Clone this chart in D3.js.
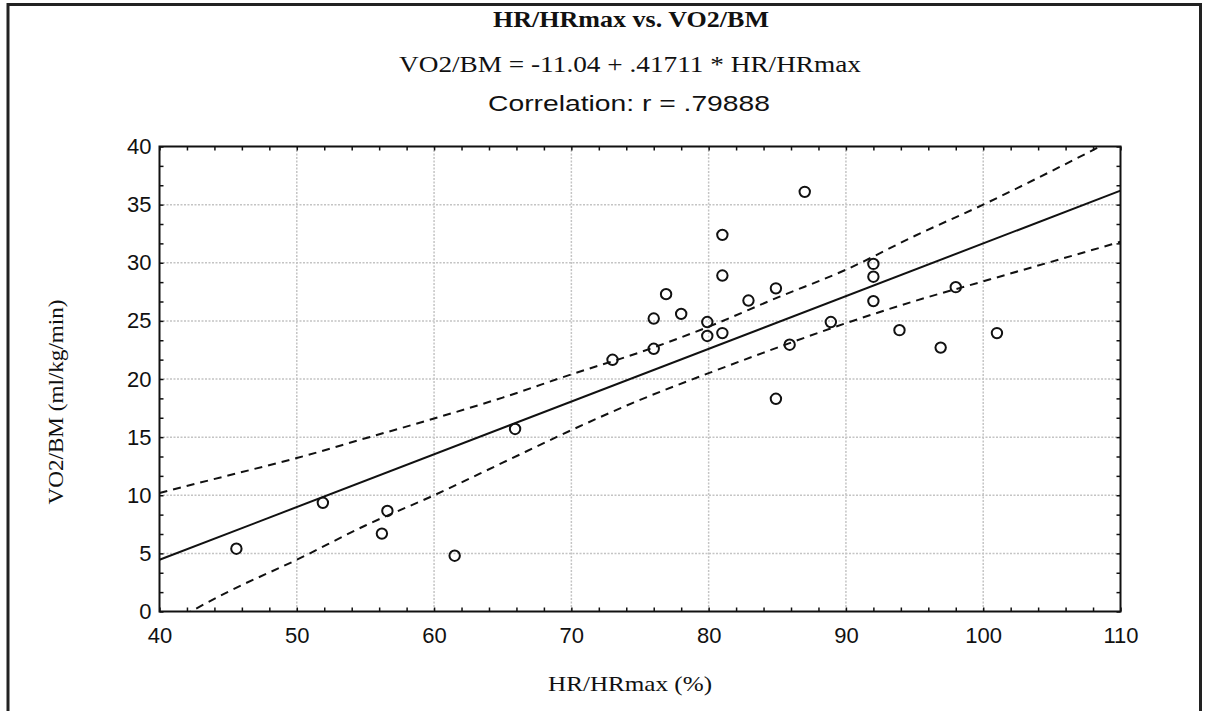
<!DOCTYPE html>
<html><head><meta charset="utf-8">
<script src="https://cdn.jsdelivr.net/npm/d3@7"></script>
<style>
body{margin:0;background:#fff;}
svg{display:block;}
.serif{font-family:"Liberation Serif","Times New Roman",serif;fill:#111;}
.sans{font-family:"Liberation Sans",Arial,sans-serif;fill:#111;}
</style>
</head><body>
<svg id="chart" width="1208" height="711"></svg>
<script>
// ---- data ----
const hrPct = [45.6, 51.9, 56.6, 56.2, 61.5, 65.9, 73.0, 76.0, 76.0, 76.9, 78.0, 79.9, 79.9, 81.0, 81.0, 81.0, 82.9, 84.9, 84.9, 85.9, 87.0, 88.9, 92.0, 92.0, 92.0, 93.9, 96.9, 98.0, 101.0];
const vo2bm = [5.4, 9.35, 8.65, 6.7, 4.8, 15.7, 21.65, 25.2, 22.6, 27.3, 25.6, 24.9, 23.7, 23.95, 28.9, 32.4, 26.75, 27.8, 18.3, 22.95, 36.1, 24.9, 29.9, 28.8, 26.7, 24.2, 22.7, 27.9, 23.95];
const fitX = [40, 110];
const fitY = [4.45, 36.2];
const bandX = [40, 45, 50, 55, 60, 65, 70, 75, 80, 85, 90, 95, 100, 105, 110];
const upperY = [10.2, 11.7, 13.2, 14.9, 16.6, 18.4, 20.4, 22.3, 24.5, 27.0, 29.4, 32.3, 35.0, 37.9, 40.9];
const lowerY = [-1.5, 1.7, 4.45, 7.4, 10.0, 12.8, 15.6, 18.2, 20.5, 22.7, 24.8, 26.7, 28.4, 30.1, 31.8];
const xTicks = [40, 50, 60, 70, 80, 90, 100, 110];
const yTicks = [0, 5, 10, 15, 20, 25, 30, 35, 40];
const titleText = "HR/HRmax vs. VO2/BM";
const eqText = "VO2/BM = -11.04 + .41711 * HR/HRmax";
const corrText = "Correlation: r = .79888";
const xTitle = "HR/HRmax (%)";
const yTitle = "VO2/BM (ml/kg/min)";

// ---- layout ----
const svg = d3.select("#chart");
const L = 159.5, R = 1120.5, T = 146.5, B = 611.5;
const x = d3.scaleLinear().domain([40, 110]).range([L, R]);
const y = d3.scaleLinear().domain([0, 40]).range([B, T]);

// outer frame
svg.append("rect").attr("x", 8).attr("y", 4.5).attr("width", 1192.5).attr("height", 730)
  .attr("fill", "none").attr("stroke", "#222").attr("stroke-width", 3);

// titles
svg.append("text").attr("class", "serif").attr("x", 631).attr("y", 27)
  .attr("text-anchor", "middle").attr("font-size", 23).attr("font-weight", "bold")
  .attr("textLength", 276).attr("lengthAdjust", "spacingAndGlyphs").text(titleText);
svg.append("text").attr("class", "serif").attr("x", 630).attr("y", 72)
  .attr("text-anchor", "middle").attr("font-size", 23)
  .attr("textLength", 462).attr("lengthAdjust", "spacingAndGlyphs").text(eqText);
svg.append("text").attr("class", "sans").attr("x", 629).attr("y", 111)
  .attr("text-anchor", "middle").attr("font-size", 22)
  .attr("textLength", 282).attr("lengthAdjust", "spacingAndGlyphs").text(corrText);

// gridlines
const grid = svg.append("g");
grid.selectAll("line.gx").data(xTicks.slice(1, -1)).join("line")
  .attr("x1", d => x(d)).attr("x2", d => x(d)).attr("y1", T).attr("y2", B)
  .attr("stroke", "#c4c4c4").attr("stroke-width", 1.5).attr("stroke-dasharray", "2,1.5");
grid.selectAll("line.gy").data(yTicks.slice(1, -1)).join("line")
  .attr("y1", d => y(d)).attr("y2", d => y(d)).attr("x1", L).attr("x2", R)
  .attr("stroke", "#c4c4c4").attr("stroke-width", 1.5).attr("stroke-dasharray", "2,1.5");

// clip
svg.append("clipPath").attr("id", "plotclip").append("rect")
  .attr("x", L).attr("y", T).attr("width", R - L).attr("height", B - T);
const plot = svg.append("g").attr("clip-path", "url(#plotclip)");

const lineGen = d3.line().x(d => x(d[0])).y(d => y(d[1])).curve(d3.curveMonotoneX);
plot.append("path").datum(d3.zip(bandX, upperY)).attr("d", lineGen)
  .attr("fill", "none").attr("stroke", "#111").attr("stroke-width", 2).attr("stroke-dasharray", "8,6");
plot.append("path").datum(d3.zip(bandX, lowerY)).attr("d", lineGen)
  .attr("fill", "none").attr("stroke", "#111").attr("stroke-width", 2).attr("stroke-dasharray", "8,6");
plot.append("path").datum(d3.zip(fitX, fitY)).attr("d", d3.line().x(d => x(d[0])).y(d => y(d[1])))
  .attr("fill", "none").attr("stroke", "#111").attr("stroke-width", 2);

// points
plot.selectAll("circle").data(d3.zip(hrPct, vo2bm)).join("circle")
  .attr("cx", d => x(d[0])).attr("cy", d => y(d[1])).attr("r", 5.2)
  .attr("fill", "none").attr("stroke", "#111").attr("stroke-width", 2);

// minor inward ticks on all sides
const xMinor = d3.range(40, 110.01, 2);
const yMinor = d3.range(0, 40.01, 5 / 3);
const tickStyle = g => { g.select(".domain").remove(); g.selectAll("line").attr("stroke", "#111").attr("stroke-width", 1.5); g.selectAll("text").remove(); };
svg.append("g").attr("transform", `translate(0,${B})`).call(d3.axisBottom(x).tickValues(xMinor).tickSize(-4)).call(tickStyle);
svg.append("g").attr("transform", `translate(0,${T})`).call(d3.axisTop(x).tickValues(xMinor).tickSize(-4)).call(tickStyle);
svg.append("g").attr("transform", `translate(${L},0)`).call(d3.axisLeft(y).tickValues(yMinor).tickSize(-4)).call(tickStyle);
svg.append("g").attr("transform", `translate(${R},0)`).call(d3.axisRight(y).tickValues(yMinor).tickSize(-4)).call(tickStyle);

// frame of plot
svg.append("rect").attr("x", L).attr("y", T).attr("width", R - L).attr("height", B - T)
  .attr("fill", "none").attr("stroke", "#111").attr("stroke-width", 2);

// tick labels via axes
const labStyle = g => { g.select(".domain").remove(); g.selectAll("line").remove();
  g.selectAll("text").attr("font-family", '"Liberation Sans",Arial,sans-serif').attr("font-size", 22).attr("fill", "#111"); };
svg.append("g").attr("transform", `translate(0,${B})`)
  .call(d3.axisBottom(x).tickValues(xTicks).tickSize(0).tickPadding(16).tickFormat(d3.format("d"))).call(labStyle);
svg.append("g").attr("transform", `translate(${L},0)`)
  .call(d3.axisLeft(y).tickValues(yTicks).tickSize(0).tickPadding(8).tickFormat(d3.format("d"))).call(labStyle);

// axis titles
svg.append("text").attr("class", "serif").attr("x", 630).attr("y", 691)
  .attr("text-anchor", "middle").attr("font-size", 22)
  .attr("textLength", 164).attr("lengthAdjust", "spacingAndGlyphs").text(xTitle);
svg.append("text").attr("class", "serif").attr("transform", "translate(63,402) rotate(-90)")
  .attr("text-anchor", "middle").attr("font-size", 22)
  .attr("textLength", 205).attr("lengthAdjust", "spacingAndGlyphs").text(yTitle);
</script>
</body></html>
